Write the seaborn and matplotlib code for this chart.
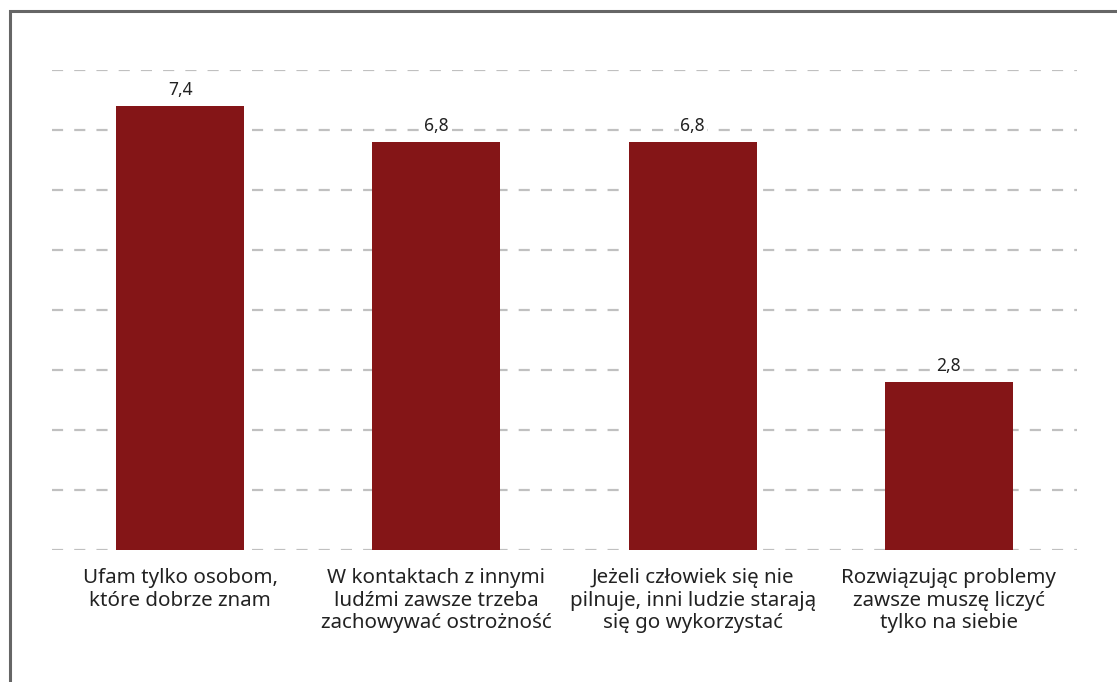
import matplotlib
matplotlib.use("Agg")
import matplotlib.pyplot as plt
import seaborn as sns
import pandas as pd
from matplotlib.patches import Rectangle

categories = [
    "Ufam tylko osobom,\nktóre dobrze znam",
    "W kontaktach z innymi\nludźmi zawsze trzeba\nzachowywać ostrożność",
    "Jeżeli człowiek się nie\npilnuje, inni ludzie starają\nsię go wykorzystać",
    "Rozwiązując problemy\nzawsze muszę liczyć\ntylko na siebie",
]
values = [7.4, 6.8, 6.8, 2.8]
value_labels = ["7,4", "6,8", "6,8", "2,8"]

sns.set_theme(style="white")
plt.rcParams["font.family"] = ["Noto Sans", "DejaVu Sans"]

fig = plt.figure(figsize=(11.17, 6.82), dpi=100)
ax = fig.add_axes([52 / 1117, (682 - 550) / 682, (1077 - 52) / 1117, (550 - 70) / 682])

df = pd.DataFrame({"cat": categories, "val": values})
sns.barplot(data=df, x="cat", y="val", color="#841517", width=0.5, ax=ax,
            saturation=1, zorder=3, linewidth=0)

ax.set_ylim(0, 8)
ax.set_xlim(-0.5, 3.5)
ax.set_yticks(range(0, 9))
ax.yaxis.grid(True, color="#c0c0c0", linestyle=(0, (5, 5)), linewidth=1.6, zorder=0)
ax.set_axisbelow(True)
ax.tick_params(axis="y", left=False, labelleft=False)
ax.tick_params(axis="x", bottom=False, labelsize=14.8, colors="#222222", pad=7)
for lbl in ax.get_xticklabels():
    lbl.set_linespacing(1.18)
for s in ax.spines.values():
    s.set_visible(False)
ax.set_xlabel("")
ax.set_ylabel("")

for i, (v, lab) in enumerate(zip(values, value_labels)):
    ax.annotate(lab, (i, v), xytext=(0, 5), textcoords="offset points",
                ha="center", va="bottom", fontsize=12.5, color="#222222", zorder=5,
                bbox=dict(boxstyle="square,pad=0.1", fc="white", ec="none"))

fig.patches.append(Rectangle((10 / 1117, -0.2), 1.5, 1.2 - 11 / 682,
                             transform=fig.transFigure, fill=False,
                             edgecolor="#666666", linewidth=2.2))

fig.savefig("out.png", dpi=100)
